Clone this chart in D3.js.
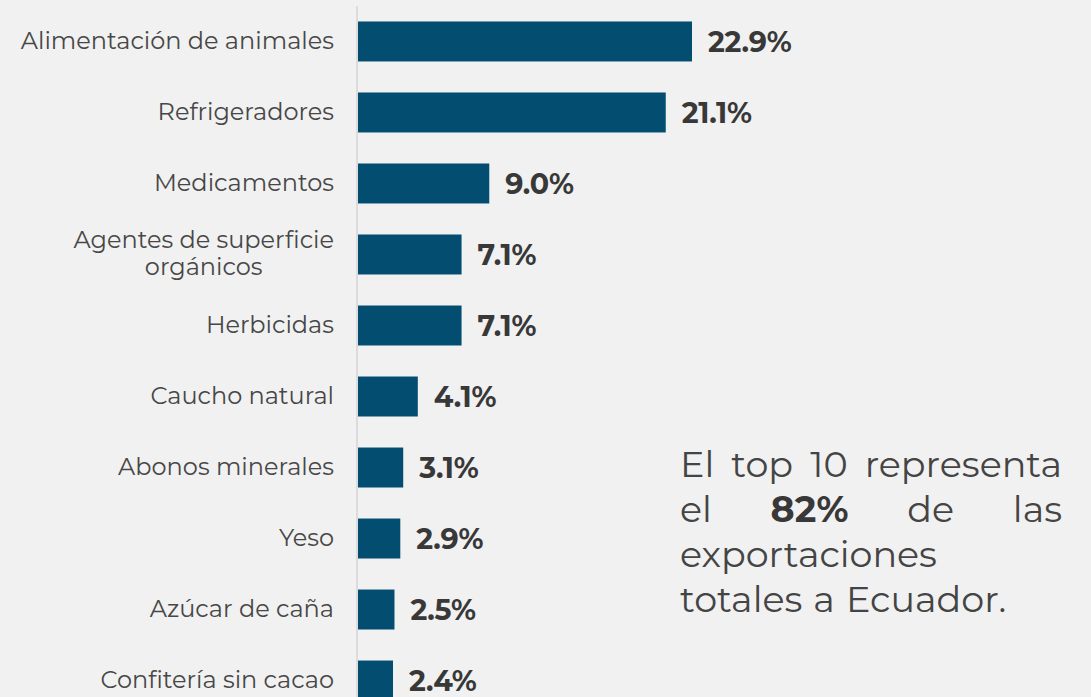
<!DOCTYPE html>
<html><head><meta charset="utf-8">
<script src="https://cdn.jsdelivr.net/npm/d3@7"></script>
<style>
html,body{margin:0;padding:0;background:#f1f1f1;}
svg{display:block;}
</style></head>
<body>
<svg id="c" width="1091" height="697"></svg>
<script>
const categories = ["Alimentación de animales","Refrigeradores","Medicamentos","Agentes de superficie\norgánicos","Herbicidas","Caucho natural","Abonos minerales","Yeso","Azúcar de caña","Confitería sin cacao"];
const values = [22.9,21.1,9.0,7.1,7.1,4.1,3.1,2.9,2.5,2.4];
const valueLabels = ["22.9%","21.1%","9.0%","7.1%","7.1%","4.1%","3.1%","2.9%","2.5%","2.4%"];
const noteLines = [["El","top","10","representa"],["el","**82%","de","las"],["exportaciones"],["totales","a","Ecuador."]];
const justifyLine = [true,true,false,false];

const W=1091,H=697;
const svg=d3.select("#c");
const FONT="Montserrat, 'DejaVu Sans', sans-serif";
const x0=358;
const x=d3.scaleLinear().domain([0,22.9]).range([x0,692]);
const y=d3.scaleBand().domain(categories).range([6,716]).paddingInner(0.437).paddingOuter(0.218);

svg.append("rect").attr("width",W).attr("height",H).attr("fill","#f1f1f1");

svg.append("line").attr("x1",x0-1).attr("x2",x0-1).attr("y1",6).attr("y2",H).attr("stroke","#dcdcdc").attr("stroke-width",2);

svg.selectAll("rect.bar").data(values).join("rect").attr("class","bar")
  .attr("x",x0).attr("y",(d,i)=>y(categories[i])).attr("width",d=>x(d)-x0).attr("height",y.bandwidth())
  .attr("fill","#024d70");

svg.selectAll("text.val").data(values).join("text").attr("class","val")
  .attr("x",d=>x(d)+16).attr("y",(d,i)=>y(categories[i])+y.bandwidth()/2).attr("dy","0.36em")
  .attr("font-family",FONT).attr("font-weight","bold").attr("font-size",28.5).attr("fill","#383838")
  .attr("letter-spacing","-0.2")
  .text((d,i)=>valueLabels[i]);

const lab=svg.selectAll("g.lab").data(categories).join("g").attr("class","lab");
lab.each(function(c,i){
  const g=d3.select(this);
  const lines=c.split("\n");
  const cy=y(c)+y.bandwidth()/2;
  const lh=27;
  const ts=lines.map((l,j)=>g.append("text").attr("font-family",FONT).attr("font-size",24).attr("fill","#474747")
    .attr("y",cy+(j-(lines.length-1)/2)*lh-1.5).attr("dy","0.36em").text(l));
  const ws=ts.map(t=>t.node().getComputedTextLength());
  const mw=d3.max(ws);
  ts.forEach((t,j)=>t.attr("text-anchor","middle").attr("x",334-mw/2));
});

const nx0=680,nx1=1062,nb=477,nlh=45;
noteLines.forEach((words,li)=>{
  const ts=words.map(w=>{
    const bold=w.startsWith("**");
    return svg.append("text").attr("font-family",FONT).attr("font-size",36.5).attr("fill",bold?"#383838":"#444")
      .attr("font-weight",bold?"bold":"normal").attr("y",nb+li*nlh).text(bold?w.slice(2):w);
  });
  const ws=ts.map(t=>t.node().getComputedTextLength());
  const total=d3.sum(ws);
  let gap=justifyLine[li]&&words.length>1?(nx1-nx0-total)/(words.length-1):11;
  let cx=nx0;
  ts.forEach((t,j)=>{t.attr("x",cx);cx+=ws[j]+gap;});
});
</script>
</body></html>
